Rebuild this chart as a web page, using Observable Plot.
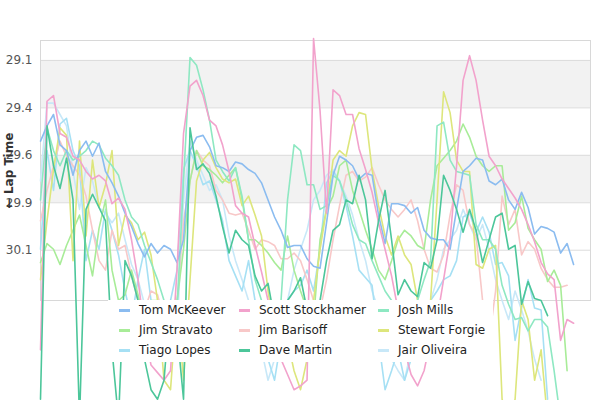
<!DOCTYPE html>
<html>
<head>
<meta charset="utf-8">
<script src="https://cdn.jsdelivr.net/npm/d3@7"></script>
<script src="https://cdn.jsdelivr.net/npm/@observablehq/plot@0.6"></script>
<style>
  body { margin: 0; background: #fff; font-family: "DejaVu Sans", sans-serif; }
  #wrap { position: relative; width: 600px; height: 400px; overflow: hidden; }
  #legend { position: absolute; left: 108px; top: 300px; width: 385px; height: 62px; background: #fff; }
  .item { position: absolute; height: 20px; display: flex; align-items: center; font-size: 12px; color: #222; white-space: nowrap; }
  .sw { width: 11px; height: 3px; margin-right: 9px; }
  g[aria-label="y-axis label"] text, g[aria-label="y-axis label"] { font-weight: bold; fill: #333; }
</style>
</head>
<body>
<div id="wrap"><div id="legend"></div></div>
<script>
const seriesNames = ["Tom McKeever","Scott Stockhamer","Josh Mills","Jim Stravato","Jim Barisoff","Stewart Forgie","Tiago Lopes","Dave Martin","Jair Oliveira"];
const seriesColors = ["#8bbcf0","#f2a2cc","#8ee8c2","#a8ec98","#f8c8c8","#dde67c","#a6e0f4","#4cc69a","#c8e8f8"];
const drawOrder = ["Jair Oliveira","Tiago Lopes","Jim Barisoff","Jim Stravato","Stewart Forgie","Josh Mills","Tom McKeever","Scott Stockhamer","Dave Martin"];

const tickValues = [29.125, 29.375, 29.625, 29.875, 30.125];
const tickLabels = ["29.1", "29.4", "29.6", "29.9", "30.1"];
const yDomain = [29.02, 30.39];
const lapDomain = [1, 85.6];

const tomMcKeever = [29.55,29.47,29.41,29.57,29.60,29.73,29.60,29.55,29.63,29.56,29.71,29.77,29.84,29.93,30.00,30.09,30.16,30.09,30.14,30.10,30.12,30.19,30.07,29.60,29.53,29.52,29.58,29.68,29.69,29.71,29.66,29.67,29.70,29.72,29.77,29.86,29.95,30.02,30.11,30.10,30.10,30.17,30.21,30.22,29.98,29.73,29.63,29.65,29.68,29.75,29.72,29.73,29.94,30.09,29.88,29.88,29.89,29.93,29.90,30.02,30.06,30.07,30.07,30.12,29.91,29.71,29.68,29.64,29.65,29.76,29.78,29.75,29.86,29.91,29.82,29.90,30.04,30.00,30.01,30.03,30.14,30.09,30.20];
const scottStockhamer = [30.65,29.34,29.31,29.51,29.53,29.63,29.65,29.71,29.75,29.73,29.76,29.88,29.85,29.91,30.07,30.28,30.55,30.73,30.77,30.81,30.76,30.23,29.51,29.26,29.23,29.31,29.44,29.47,29.57,29.71,29.89,29.93,29.95,30.10,30.24,30.39,30.60,30.70,30.78,30.86,30.84,30.81,29.01,29.39,29.93,29.28,29.31,29.41,29.41,29.59,29.70,29.82,29.98,30.12,30.26,30.44,30.65,30.78,30.84,30.76,30.60,30.49,30.28,30.07,29.68,29.23,29.10,29.23,29.44,29.63,29.68,29.75,29.80,29.85,29.91,29.99,30.08,30.19,30.25,30.28,30.60,30.49,30.51];
const joshMills = [29.86,29.48,29.60,29.68,29.60,29.65,29.63,29.60,29.55,29.57,29.64,29.68,29.73,29.86,29.95,29.99,30.10,30.19,30.28,30.39,30.49,30.44,29.76,29.11,29.15,29.28,29.44,29.65,29.71,29.76,29.69,29.84,30.07,30.28,30.39,30.44,30.49,30.39,29.86,29.57,29.60,29.78,29.78,29.91,29.89,29.73,29.76,29.86,29.99,30.07,30.09,30.18,30.26,30.34,30.39,30.44,30.49,30.55,30.39,30.28,30.18,29.47,29.45,29.65,29.71,29.72,29.73,29.99,30.07,30.07,30.12,30.31,30.41,30.49,30.48,30.55,30.49,30.49,30.53,30.76,31.02];
const jimStravato = [30.19,30.09,30.12,30.20,30.10,30.02,29.94,30.10,30.26,30.01,29.86,30.23,30.39,30.36,30.23,30.36,30.49,30.39,30.39,30.44,30.55,30.39,30.12,29.76,29.60,29.68,29.70,29.73,29.77,29.73,29.69,29.86,30.07,30.07,30.10,30.14,30.19,30.23,30.05,30.23,30.34,30.44,30.49,30.07,29.91,29.84,29.68,29.65,29.81,29.91,30.02,30.12,30.23,30.28,30.18,30.07,30.02,30.05,30.10,30.12,29.86,29.68,29.64,29.60,29.55,29.46,29.53,29.63,29.68,29.71,29.68,29.68,30.02,29.98,29.84,30.01,30.07,30.12,30.29,30.23,30.31,30.76];
const jimBarisoff = [29.97,29.81,29.68,29.55,29.63,29.68,29.73,29.84,30.02,30.18,30.23,30.02,30.12,30.10,30.26,30.39,30.44,30.34,30.36,30.49,30.60,30.39,29.97,29.76,29.60,29.65,29.68,29.81,29.86,29.93,29.94,29.93,30.02,30.12,30.07,30.08,30.10,30.17,30.17,30.14,30.18,30.28,30.39,30.44,30.28,30.07,29.89,29.73,29.71,29.76,29.74,29.69,29.78,29.86,29.91,29.95,29.91,29.86,29.97,30.12,30.22,30.24,30.15,29.94,29.78,29.81,29.99,30.05,30.39,30.60,30.34,29.84,29.99,29.91,30.15,30.08,30.12,30.22,30.28,30.32,30.32,30.31];
const stewartForgie = [30.28,29.97,29.70,29.48,29.52,30.18,29.55,30.05,29.65,29.90,29.78,29.60,30.10,29.94,29.98,30.07,30.03,30.15,30.39,30.81,30.86,30.39,30.81,30.28,29.76,29.65,29.61,29.69,29.75,29.77,29.75,29.89,29.84,29.94,30.05,30.34,30.55,30.70,30.60,30.76,30.86,30.70,30.39,30.12,29.91,29.65,29.60,29.63,29.47,29.40,29.41,29.70,29.89,30.05,30.15,30.05,30.15,30.20,30.39,30.70,30.39,29.86,29.29,29.40,29.65,29.71,29.71,30.20,30.22,30.12,30.10,30.91,31.02,30.91,30.39,30.49,30.81,30.65,31.02];
const tiagoLopes = [30.12,29.60,29.81,29.46,29.43,29.60,29.68,30.18,30.02,30.12,29.91,30.02,30.15,30.34,30.49,30.28,30.12,30.39,30.55,30.65,30.39,30.23,29.70,29.60,29.68,29.78,29.76,29.86,29.97,30.18,30.26,30.34,30.18,30.39,30.55,30.70,30.81,30.60,30.39,30.34,30.31,30.23,30.34,30.12,29.77,29.71,29.76,29.89,30.05,30.23,30.27,30.31,30.60,30.86,30.76,30.65,30.81,30.70,30.49,30.60,30.39,30.34,30.28,30.26,30.18,29.95,29.93,30.03,29.95,30.03,30.20,30.19,30.26,30.60,30.43,30.28,30.43,30.44,30.91];
const daveMartin = [30.91,29.47,29.68,29.80,29.64,29.86,31.02,29.91,29.83,29.90,29.97,30.65,31.02,30.18,30.26,30.39,30.70,30.86,30.91,30.81,30.39,30.55,30.91,29.48,29.70,29.67,29.72,29.84,30.00,30.14,30.02,30.07,30.10,30.26,30.34,30.30,30.49,30.60,30.39,30.34,30.27,30.44,30.55,30.39,30.18,30.02,29.99,29.86,29.88,29.73,29.86,30.17,29.97,29.81,30.07,30.36,30.28,30.34,30.37,30.19,30.22,30.07,29.73,29.81,29.91,30.03,29.91,30.02,30.19,30.07,29.95,29.93,30.12,30.10,30.41,30.29,30.38,30.39,30.47];
const jairOliveira = [29.76,29.35,29.35,29.41,29.47,29.71,29.91,29.69,29.76,29.90,29.93,29.98,29.93,30.07,30.20,30.28,30.41,30.49,30.44,30.60,30.70,30.55,29.86,29.55,29.65,29.73,29.81,29.78,29.86,30.05,30.18,30.28,30.39,30.49,30.65,30.81,30.70,30.55,30.39,30.23,30.12,30.02,29.86,29.81,29.73,29.70,29.76,29.84,29.94,30.07,30.18,30.34,30.44,30.55,30.70,30.76,30.81,30.65,30.55,30.60,30.39,30.28,30.12,30.07,30.02,29.91,29.99,30.07,29.99,30.12,30.28,30.39,30.49,30.34,30.44,30.55,30.70,30.81];

const seriesValues = {
  "Tom McKeever": tomMcKeever,
  "Scott Stockhamer": scottStockhamer,
  "Josh Mills": joshMills,
  "Jim Stravato": jimStravato,
  "Jim Barisoff": jimBarisoff,
  "Stewart Forgie": stewartForgie,
  "Tiago Lopes": tiagoLopes,
  "Dave Martin": daveMartin,
  "Jair Oliveira": jairOliveira
};

const rows = [];
for (const name of drawOrder) {
  seriesValues[name].forEach((t, i) => rows.push({name, lap: i + 1, time: t}));
}
const bands = [
  {y1: tickValues[0], y2: tickValues[1]},
  {y1: tickValues[2], y2: tickValues[3]}
];

const chart = Plot.plot({
  width: 600,
  height: 400,
  marginTop: 40,
  marginBottom: 100,
  marginLeft: 40,
  marginRight: 10,
  style: {fontFamily: "DejaVu Sans, sans-serif", fontSize: "12px", color: "#555", background: "#fff", overflow: "hidden"},
  x: {domain: lapDomain, axis: null},
  y: {
    domain: yDomain,
    reverse: true,
    ticks: tickValues,
    tickFormat: (d, i) => tickLabels[tickValues.indexOf(d)],
    tickSize: 0,
    tickPadding: 8,
    label: "Lap Time",
    labelAnchor: "center",
    labelOffset: 36
  },
  color: {domain: seriesNames, range: seriesColors},
  marks: [
    Plot.rect(bands, {y1: "y1", y2: "y2", fill: "#f2f2f2"}),
    Plot.ruleY(tickValues, {stroke: "#dcdcdc", strokeWidth: 1}),
    Plot.frame({stroke: "#d8d8d8"}),
    Plot.line(rows, {x: "lap", y: "time", z: "name", stroke: "name", strokeWidth: 1.6, curve: "linear"})
  ]
});
document.getElementById("wrap").insertBefore(chart, document.getElementById("legend"));

const legend = document.getElementById("legend");
const colLeft = [11, 131, 270];
const rowTop = [0, 20, 40];
seriesNames.forEach((name, i) => {
  const item = document.createElement("div");
  item.className = "item";
  item.style.left = colLeft[i % 3] + "px";
  item.style.top = rowTop[Math.floor(i / 3)] + "px";
  const sw = document.createElement("span");
  sw.className = "sw";
  sw.style.background = seriesColors[i];
  const label = document.createElement("span");
  label.textContent = name;
  item.appendChild(sw);
  item.appendChild(label);
  legend.appendChild(item);
});
</script>
</body>
</html>
